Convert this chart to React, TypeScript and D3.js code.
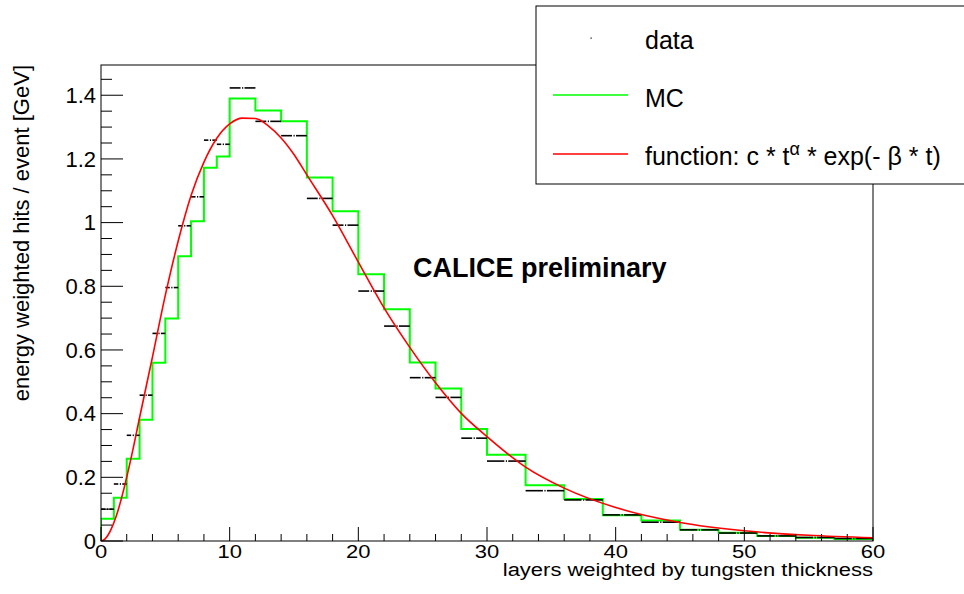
import React from "react";
import * as d3 from "d3";

const binEdges = [0, 1, 2, 3, 4, 5, 6, 7, 8, 9, 10, 12, 14, 16, 18, 20, 22, 24, 26, 28, 30, 33, 36, 39, 42, 45, 48, 51, 54, 57, 60];
const mcValues = [0.070, 0.136, 0.258, 0.381, 0.560, 0.699, 0.894, 1.004, 1.172, 1.208, 1.390, 1.352, 1.318, 1.142, 1.036, 0.838, 0.728, 0.561, 0.479, 0.352, 0.271, 0.175, 0.132, 0.081, 0.064, 0.035, 0.026, 0.016, 0.010, 0.006];
const dataValues = [0.100, 0.179, 0.332, 0.458, 0.652, 0.796, 0.990, 1.081, 1.259, 1.246, 1.423, 1.318, 1.273, 1.076, 0.992, 0.785, 0.675, 0.513, 0.451, 0.323, 0.251, 0.158, 0.129, 0.082, 0.059, 0.035, 0.025, 0.016, 0.011, 0.008];
const fitT = [0, 0.3, 0.8, 1.2, 1.8, 2.4, 3, 4, 5, 6, 7, 8, 9, 10, 11, 12, 13, 14, 15, 16, 18, 20, 22, 24, 26, 28, 30, 33, 36, 40, 45, 50, 55, 60];
const fitV = [0, 0.006, 0.038, 0.080, 0.167, 0.272, 0.388, 0.578, 0.772, 0.942, 1.085, 1.19, 1.265, 1.31, 1.328, 1.327, 1.304, 1.266, 1.214, 1.15, 1.022, 0.876, 0.732, 0.608, 0.497, 0.401, 0.328, 0.232, 0.166, 0.105, 0.058, 0.032, 0.018, 0.010];
const xTicks = [0, 10, 20, 30, 40, 50, 60];
const xTickLabels = ["0", "10", "20", "30", "40", "50", "60"];
const yTicks = [0, 0.2, 0.4, 0.6, 0.8, 1.0, 1.2, 1.4];
const yTickLabels = ["0", "0.2", "0.4", "0.6", "0.8", "1", "1.2", "1.4"];
const xTitle = "layers weighted by tungsten thickness";
const yTitle = "energy weighted hits / event [GeV]";
const annotation = "CALICE preliminary";
const legendLabels = ["data", "MC"];

const W = 964;
const H = 594;
const L = 101, R = 873, T = 65, B = 541;
const FONT = "'Liberation Sans', Arial, Helvetica, sans-serif";

export default function App() {
  const x = d3.scaleLinear().domain([0, 60]).range([L, R]);
  const y = d3.scaleLinear().domain([0, 1.495]).range([B, T]);

  const histPts: [number, number][] = [[0, 0]];
  mcValues.forEach((v, i) => {
    histPts.push([binEdges[i], v]);
    histPts.push([binEdges[i + 1], v]);
  });
  histPts.push([60, 0]);
  const line = d3.line<[number, number]>().x((d) => x(d[0])).y((d) => y(d[1]));
  const histPath = line(histPts) || "";

  const fitLine = d3
    .line<number>()
    .x((_, i) => x(fitT[i]))
    .y((d) => y(d))
    .curve(d3.curveMonotoneX);
  const fitPath = fitLine(fitV) || "";

  const xMinor = d3.range(0, 61, 2).filter((v) => v % 10 !== 0);
  const yMinor = d3.range(0, 1.4951, 0.05).filter((v) => Math.abs(v / 0.2 - Math.round(v / 0.2)) > 0.01);

  return (
    <svg width={W} height={H} style={{ position: "absolute", left: 0, top: 0, background: "#fff" }} fontFamily={FONT}>
      <rect x={0} y={0} width={W} height={H} fill="#fff" />
      <defs>
        <clipPath id="plotclip">
          <rect x={L} y={T} width={R - L} height={B - T} />
        </clipPath>
      </defs>
      <g clipPath="url(#plotclip)">
        <path d={histPath} fill="none" stroke="#00ff00" strokeWidth={2} />
        {dataValues.map((v, i) => {
          const x0 = x(binEdges[i]);
          const x1 = x(binEdges[i + 1]);
          const xc = x((binEdges[i] + binEdges[i + 1]) / 2);
          const yy = y(v);
          return (
            <g key={i}>
              <line x1={x0} x2={xc - 2} y1={yy} y2={yy} stroke="#000" strokeWidth={1.6} />
              <line x1={xc + 2} x2={x1} y1={yy} y2={yy} stroke="#000" strokeWidth={1.6} />
              <rect x={xc - 0.5} y={yy - 0.8} width={1.2} height={1.6} fill="#000" />
            </g>
          );
        })}
        <path d={fitPath} fill="none" stroke="#ff0000" strokeWidth={1.6} />
      </g>
      <rect x={L} y={T} width={R - L} height={B - T} fill="none" stroke="#000" strokeWidth={1} />
      {xTicks.map((t) => (
        <line key={"xt" + t} x1={x(t)} x2={x(t)} y1={B} y2={B - 14} stroke="#000" strokeWidth={1} />
      ))}
      {xMinor.map((t) => (
        <line key={"xm" + t} x1={x(t)} x2={x(t)} y1={B} y2={B - 7} stroke="#000" strokeWidth={1} />
      ))}
      {xTicks.map((t, i) => (
        <text key={"xl" + t} transform={`translate(${x(t)},${B + 17}) scale(1,0.8)`} fontSize={22} textAnchor="middle" fill="#000">
          {xTickLabels[i]}
        </text>
      ))}
      {yTicks.map((t) => (
        <line key={"yt" + t} x1={L} x2={L + 22} y1={y(t)} y2={y(t)} stroke="#000" strokeWidth={1} />
      ))}
      {yMinor.map((t, i) => (
        <line key={"ym" + i} x1={L} x2={L + 11} y1={y(t)} y2={y(t)} stroke="#000" strokeWidth={1} />
      ))}
      {yTicks.map((t, i) => (
        <text key={"yl" + t} x={96} y={y(t)} dy="0.35em" fontSize={22} textAnchor="end" fill="#000">
          {yTickLabels[i]}
        </text>
      ))}
      <text transform={`translate(${R},576) scale(1,0.8)`} fontSize={22} textAnchor="end" fill="#000">
        {xTitle}
      </text>
      <text transform="rotate(-90)" x={-T} y={29} fontSize={22} textAnchor="end" fill="#000">
        {yTitle}
      </text>
      <text x={413} y={277} fontSize={27} fontWeight="bold" fill="#000">
        {annotation}
      </text>
      <rect x={536} y={6} width={450} height={178} fill="#fff" stroke="#000" strokeWidth={1} />
      <rect x={590.5} y={37.5} width={1.2} height={1.2} fill="#000" />
      <text x={645} y={49} fontSize={25} fill="#000">{legendLabels[0]}</text>
      <line x1={553} x2={628} y1={95} y2={95} stroke="#00ff00" strokeWidth={1.5} />
      <text x={645} y={107} fontSize={25} fill="#000">{legendLabels[1]}</text>
      <line x1={553} x2={628} y1={154} y2={154} stroke="#ff0000" strokeWidth={1.5} />
      <text x={645} y={165} fontSize={25} fill="#000">
        function: c * t
        <tspan dy={-10} fontSize={18}>α</tspan>
        <tspan dy={10}> * exp(- β * t)</tspan>
      </text>
    </svg>
  );
}
